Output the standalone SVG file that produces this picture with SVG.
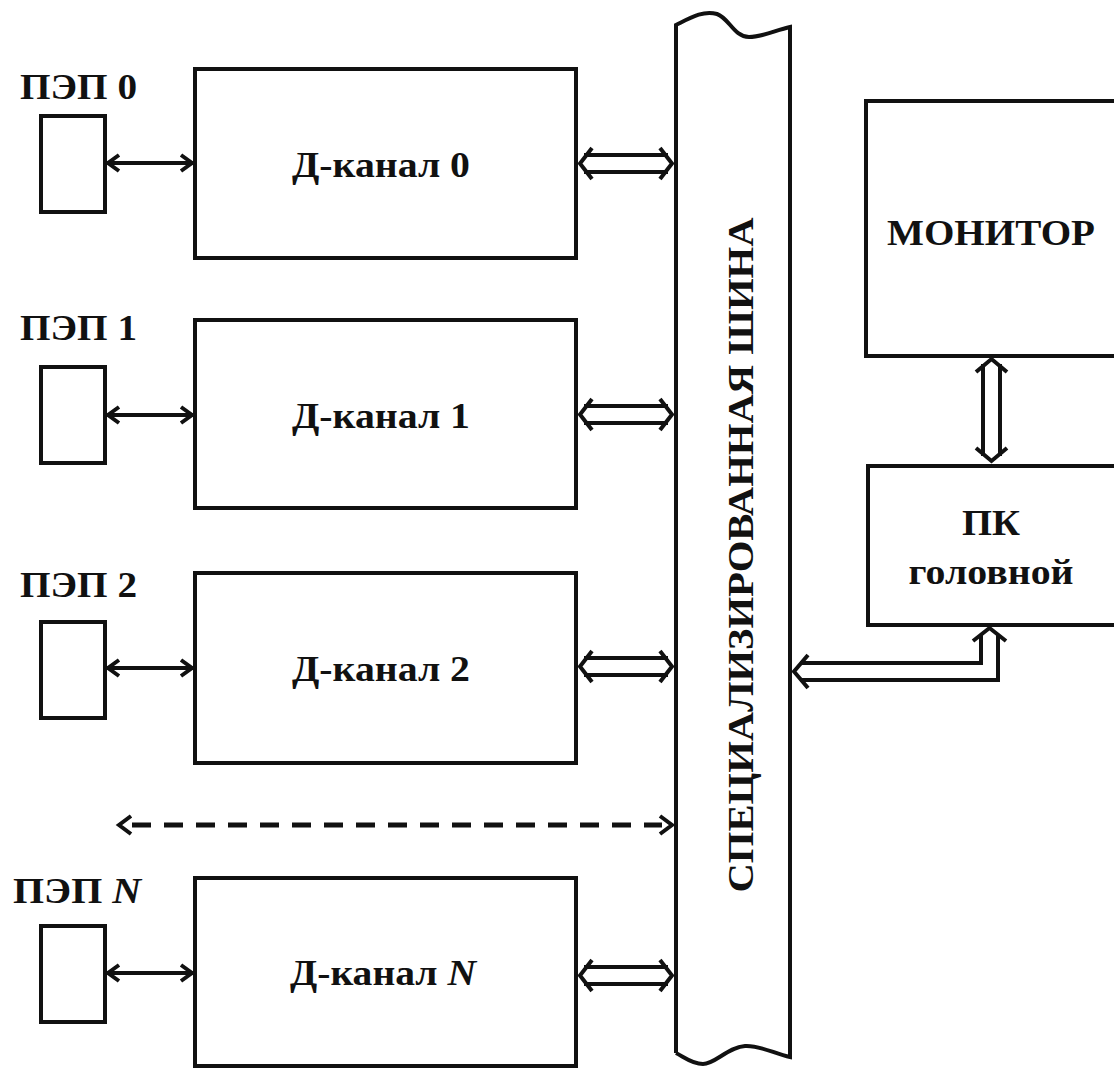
<svg xmlns="http://www.w3.org/2000/svg" width="1114" height="1068" viewBox="0 0 1114 1068">
<style>
.box{fill:#fff;stroke:#111;stroke-width:4}
.ln{fill:none;stroke:#111;stroke-width:4}
.hd{fill:none;stroke:#111;stroke-width:4;stroke-linejoin:miter}
text{font-family:'Liberation Serif','Times New Roman',Times,'DejaVu Serif',serif;font-weight:bold;font-size:36px;fill:#111}
.dash{fill:none;stroke:#111;stroke-width:5;stroke-dasharray:19 13}
</style>
<rect width="1114" height="1068" fill="#fff"/>

<g id="bus">
<path class="ln" d="M676,1053 V25 C690,18 703,10 717,14 C729,18 734,37 749,37 C763,37 776,30 790,27 V1057 C775,1054 760,1045 745,1046 C728,1047 715,1064 703,1064 C692,1064 684,1057 676,1053"/>
<text font-size="38" text-anchor="middle" textLength="675" lengthAdjust="spacingAndGlyphs" transform="translate(753,555) rotate(-90)">СПЕЦИАЛИЗИРОВАННАЯ  ШИНА</text>
</g>

<g id="pep0"><text x="20" y="99" textLength="117" lengthAdjust="spacingAndGlyphs">ПЭП 0</text><rect class="box" x="41" y="116" width="64" height="96"/></g>
<g id="pep1"><text x="20" y="340" textLength="117" lengthAdjust="spacingAndGlyphs">ПЭП 1</text><rect class="box" x="41" y="367" width="64" height="96"/></g>
<g id="pep2"><text x="20" y="597" textLength="117" lengthAdjust="spacingAndGlyphs">ПЭП 2</text><rect class="box" x="41" y="622" width="64" height="96"/></g>
<g id="pepN"><text x="13" y="903" textLength="128" lengthAdjust="spacingAndGlyphs">ПЭП <tspan font-style="italic">N</tspan></text><rect class="box" x="41" y="926" width="64" height="96"/></g>

<g id="dch0"><rect class="box" x="195" y="69" width="381" height="189"/><text x="381" y="177" text-anchor="middle" textLength="178" lengthAdjust="spacingAndGlyphs">Д-канал 0</text></g>
<g id="dch1"><rect class="box" x="195" y="320" width="381" height="188"/><text x="381" y="428" text-anchor="middle" textLength="178" lengthAdjust="spacingAndGlyphs">Д-канал 1</text></g>
<g id="dch2"><rect class="box" x="195" y="573" width="381" height="190"/><text x="381" y="681" text-anchor="middle" textLength="178" lengthAdjust="spacingAndGlyphs">Д-канал 2</text></g>
<g id="dchN"><rect class="box" x="195" y="878" width="381" height="188"/><text x="383" y="985" text-anchor="middle" textLength="186" lengthAdjust="spacingAndGlyphs">Д-канал <tspan font-style="italic">N</tspan></text></g>

<g id="monitor"><rect class="box" x="866" y="101" width="260" height="255"/><text x="991" y="245" text-anchor="middle" font-size="39" textLength="208" lengthAdjust="spacingAndGlyphs">МОНИТОР</text></g>
<g id="pk"><rect class="box" x="868" y="466" width="260" height="159"/><text x="991" y="535" text-anchor="middle" font-size="32" textLength="58" lengthAdjust="spacingAndGlyphs">ПК</text><text x="991" y="584" text-anchor="middle" font-size="32" textLength="165" lengthAdjust="spacingAndGlyphs">головной</text></g>

<g id="connectors">
<g id="sgl"><path class="ln" d="M107,163 H193 M107,415 H193 M107,668 H193 M107,973 H193"/>
<path class="hd" d="M119,155 L108,163 L119,171 M181,155 L192,163 L181,171 M119,407 L108,415 L119,423 M181,407 L192,415 L181,423 M119,660 L108,668 L119,676 M181,660 L192,668 L181,676 M119,965 L108,973 L119,981 M181,965 L192,973 L181,981"/></g>

<g id="dbl0"><path class="ln" d="M584,155 H668 M584,172 H668"/><path class="hd" d="M592,148 L580,163.5 L592,179 M660,148 L672,163.5 L660,179"/></g>
<g id="dbl1"><path class="ln" d="M584,406 H668 M584,423 H668"/><path class="hd" d="M592,399 L580,414.5 L592,430 M660,399 L672,414.5 L660,430"/></g>
<g id="dbl2"><path class="ln" d="M584,658 H668 M584,675 H668"/><path class="hd" d="M592,651 L580,666.5 L592,682 M660,651 L672,666.5 L660,682"/></g>
<g id="dblN"><path class="ln" d="M584,967 H668 M584,984 H668"/><path class="hd" d="M592,960 L580,975.5 L592,991 M660,960 L672,975.5 L660,991"/></g>

<g id="monpk"><path class="ln" d="M983,364 V456 M1000,364 V456"/><path class="hd" d="M976,372 L991.5,359 L1007,372 M976,448 L991.5,461 L1007,448"/></g>

<g id="buspk"><path class="ln" d="M800,663 H981 V634 M800,680 H998 V634"/><path class="hd" d="M808,655 L794,671.5 L808,688 M973,641 L989.5,628 L1006,641"/></g>

<line class="dash" x1="132" y1="825" x2="662" y2="825"/>
<path class="hd" stroke-width="5" d="M131,816 L119,825 L131,834 M660,816 L672,825 L660,834"/>
</g>
</svg>
